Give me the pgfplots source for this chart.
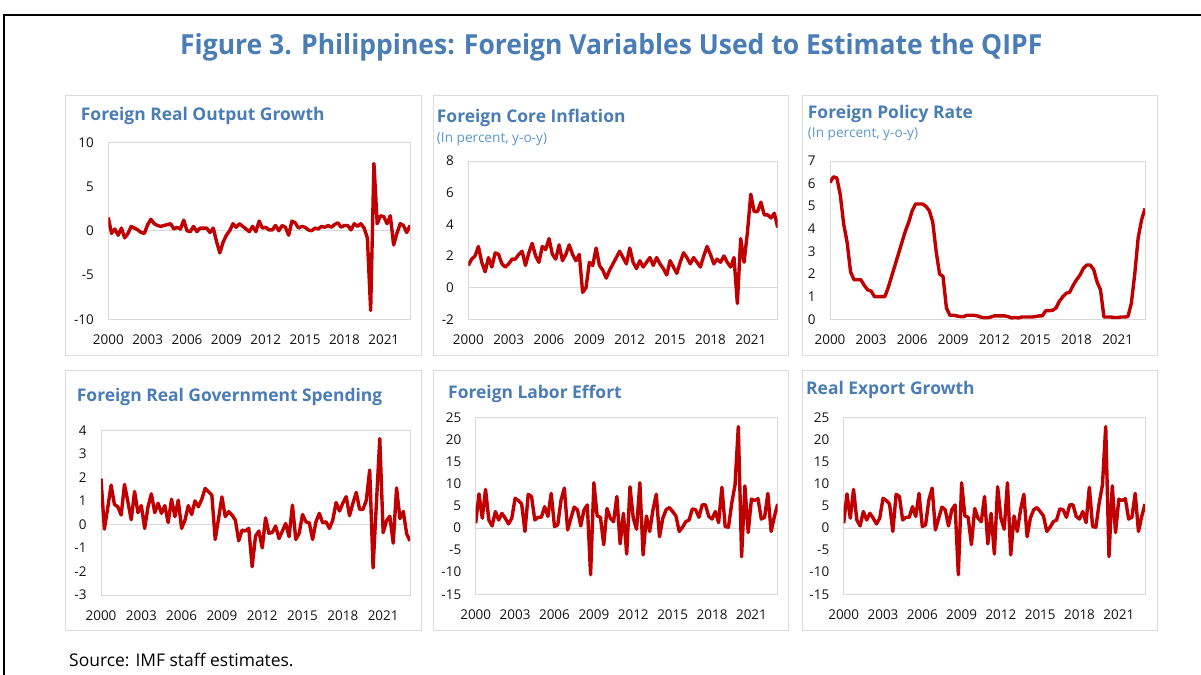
\documentclass[border=0pt]{standalone}
\usepackage{fontspec}
\setmainfont{Open Sans}
\usepackage{graphicx}
\usepackage{pgfplots}
\pgfplotsset{compat=1.18}
\usepackage{pgfplotstable}
\definecolor{ttl}{HTML}{4A7DB5}
\definecolor{sub}{HTML}{5B97D0}
\definecolor{ln}{HTML}{C00000}
\definecolor{bx}{HTML}{DCDCDC}
\definecolor{gl}{HTML}{D9D9D9}

\pgfplotstableread[row sep=\\]{y\\1.5\\-0.3\\0.2\\-0.5\\0.3\\-0.8\\-0.3\\0.5\\0.3\\0.1\\-0.2\\-0.3\\0.7\\1.3\\0.8\\0.6\\0.5\\0.6\\0.7\\0.8\\0.2\\0.4\\0.2\\1.2\\0.0\\-0.1\\0.5\\-0.1\\0.3\\0.3\\0.3\\-0.2\\0.3\\-1.2\\-2.5\\-1.3\\-0.5\\0.0\\0.8\\0.4\\0.8\\0.5\\0.2\\-0.1\\0.5\\-0.1\\1.1\\0.3\\0.4\\0.1\\0.1\\0.6\\0.0\\0.6\\0.4\\-0.5\\1.1\\0.9\\0.3\\0.5\\0.4\\0.1\\0.0\\0.3\\0.2\\0.5\\0.4\\0.6\\0.4\\0.7\\0.9\\0.4\\0.6\\0.6\\0.1\\0.8\\0.5\\0.8\\0.3\\-0.8\\-9.0\\7.6\\0.8\\1.7\\1.6\\0.8\\1.7\\-1.6\\-0.3\\0.8\\0.6\\-0.2\\0.6\\}\dA

\pgfplotstableread[row sep=\\]{y\\1.4\\1.8\\2.0\\2.6\\1.6\\1.0\\1.9\\1.3\\2.2\\2.1\\1.5\\1.3\\1.5\\1.8\\1.8\\2.1\\2.3\\1.4\\2.2\\2.8\\2.0\\1.6\\2.6\\2.4\\3.1\\2.1\\1.8\\2.7\\1.7\\2.1\\2.7\\2.1\\1.7\\2.1\\-0.3\\0.0\\1.6\\1.4\\2.5\\1.4\\1.1\\0.6\\1.1\\1.5\\1.9\\2.3\\1.9\\1.5\\2.5\\1.6\\1.2\\1.7\\1.3\\1.6\\1.9\\1.4\\1.9\\1.5\\1.2\\0.8\\1.7\\1.3\\0.9\\1.6\\2.2\\1.9\\1.5\\1.9\\1.6\\1.3\\2.0\\2.6\\2.1\\1.5\\1.8\\1.6\\2.0\\1.6\\1.3\\1.9\\-1.0\\3.1\\1.6\\3.5\\5.9\\4.8\\4.8\\5.4\\4.6\\4.6\\4.4\\4.7\\3.8\\}\dB

\pgfplotstableread[row sep=\\]{y\\6.05\\6.3\\6.25\\5.5\\4.2\\3.4\\2.1\\1.75\\1.75\\1.75\\1.5\\1.3\\1.25\\1.0\\1.0\\1.0\\1.0\\1.4\\1.9\\2.4\\2.9\\3.4\\3.9\\4.3\\4.8\\5.1\\5.1\\5.1\\5.0\\4.8\\4.3\\3.0\\2.0\\1.9\\0.5\\0.18\\0.18\\0.15\\0.12\\0.12\\0.18\\0.18\\0.18\\0.15\\0.1\\0.07\\0.07\\0.1\\0.15\\0.15\\0.15\\0.15\\0.12\\0.06\\0.08\\0.06\\0.1\\0.1\\0.1\\0.1\\0.12\\0.15\\0.15\\0.38\\0.38\\0.4\\0.5\\0.8\\1.0\\1.15\\1.2\\1.5\\1.75\\1.95\\2.25\\2.4\\2.4\\2.2\\1.65\\1.3\\0.1\\0.1\\0.1\\0.08\\0.08\\0.1\\0.1\\0.12\\0.7\\2.0\\3.6\\4.4\\4.9\\}\dC

\pgfplotstableread[row sep=\\]{y\\1.95\\-0.2\\0.7\\1.67\\0.85\\0.75\\0.4\\1.7\\0.96\\0.2\\1.4\\0.5\\0.8\\-0.17\\0.75\\1.3\\0.5\\0.9\\0.47\\0.8\\0.08\\1.07\\0.33\\1.03\\-0.17\\0.18\\0.8\\0.42\\1.0\\0.75\\1.07\\1.53\\1.39\\1.25\\-0.64\\0.25\\1.17\\0.33\\0.54\\0.4\\0.18\\-0.7\\-0.24\\-0.28\\-0.17\\-1.8\\-0.5\\-0.28\\-1.0\\0.28\\-0.38\\-0.34\\-0.07\\-0.6\\-0.28\\0.04\\-0.52\\0.82\\-0.64\\-0.38\\0.42\\0.11\\0.07\\-0.64\\0.11\\0.47\\0.07\\0.11\\-0.17\\0.18\\0.93\\0.57\\0.9\\1.18\\0.37\\0.9\\1.36\\0.64\\0.64\\1.03\\2.31\\-1.85\\0.9\\3.65\\-0.35\\0.15\\0.35\\-0.8\\1.55\\0.25\\0.55\\-0.4\\-0.7\\}\dD

\pgfplotstableread[row sep=\\]{y\\1.05\\7.7\\2.2\\8.7\\1.8\\0.45\\3.7\\1.8\\3.3\\2.2\\0.9\\2.2\\6.7\\6.2\\5.4\\-0.8\\7.6\\7.1\\1.8\\2.4\\2.4\\4.8\\2.6\\7.8\\0.3\\0.7\\6.3\\9.0\\-0.45\\2.2\\4.7\\4.1\\0.45\\4.1\\5.2\\-10.6\\10.2\\2.7\\2.4\\-3.8\\4.4\\2.2\\1.4\\7.1\\-3.6\\3.3\\-5.9\\9.3\\2.2\\-0.3\\10.2\\-6.1\\2.7\\-0.8\\4.1\\7.6\\-2.0\\2.2\\4.1\\4.6\\3.7\\2.7\\-0.8\\0.15\\1.4\\1.8\\4.3\\4.1\\2.4\\5.2\\5.2\\2.6\\2.0\\3.7\\1.2\\9.2\\0.3\\0.15\\5.6\\9.7\\22.9\\-6.5\\9.5\\-1.05\\6.5\\6.2\\6.6\\2.0\\2.4\\7.8\\-0.8\\2.6\\5.4\\}\dE

\pgfplotsset{
  panel/.style={
    scale only axis, anchor=south west,
    axis line style={draw=gl, line width=0.8bp},
    major tick length=0pt, tick style={draw=none},
    xmin=0, xmax=92,
    xtick={0,12,24,36,48,60,72,84},
    xticklabels={2000,2003,2006,2009,2012,2015,2018,2021},
    /pgf/number format/assume math mode=true,
    ticklabel style={font=\fontsize{13.5}{15}\selectfont, text=black!92},
    xticklabel style={yshift=-12bp},
    yticklabel style={xshift=-11bp},
    extra y ticks={0}, extra y tick labels={},
    extra y tick style={grid=major, major grid style={draw=gl, line width=0.8bp}},
  },
  myline/.style={draw=ln, line width=3.4bp, line join=round, mark=none},
}
\tikzset{
  ptitle/.style={anchor=base west, inner sep=0pt, text=ttl, font=\bfseries\fontsize{17.5}{20}\selectfont},
  psub/.style={anchor=base west, inner sep=0pt, text=sub, font=\fontsize{13.7}{16}\selectfont},
}

\begin{document}
\begin{tikzpicture}[x=1bp,y=1bp]
\fill[white] (0,0) rectangle (1201,675);
\path[use as bounding box] (0,0) rectangle (1201,675);
\draw[line width=2.5bp, black] (4,0) -- (4,660) -- (1201,660);

\node[anchor=base west, inner sep=0pt, text=ttl] at (180,620) {\resizebox{862bp}{21bp}{\bfseries Figure 3. Philippines: Foreign Variables Used to Estimate the QIPF}};

% panel boxes
\draw[bx, line width=0.8bp] (65,320) rectangle (421.7,580);
\draw[bx, line width=0.8bp] (433,320) rectangle (788,580);
\draw[bx, line width=0.8bp] (802,320) rectangle (1157,580);
\draw[bx, line width=0.8bp] (65,45) rectangle (421.7,305);
\draw[bx, line width=0.8bp] (433,45) rectangle (788,305);
\draw[bx, line width=0.8bp] (802,45) rectangle (1157,305);

% titles
\node[ptitle] at (80.7,554) {Foreign Real Output Growth};
\node[ptitle] at (436.7,552.7) {Foreign Core Inflation};
\node[psub] at (436.7,532.7) {(In percent, y-o-y)};
\node[ptitle] at (807.7,556.7) {Foreign Policy Rate};
\node[psub] at (807.7,537.3) {(In percent, y-o-y)};
\node[ptitle] at (76.7,273.3) {Foreign Real Government Spending};
\node[ptitle] at (448,276.7) {Foreign Labor Effort};
\node[ptitle] at (806,280) {Real Export Growth};

\node[anchor=base west, inner sep=0pt, font=\fontsize{17.5}{19}\selectfont] at (69,8.3) {Source: IMF staff estimates.};

\begin{axis}[panel, at={(108.3bp,355.7bp)}, width=301.7bp, height=177bp,
  ymin=-10, ymax=10, ytick={-10,-5,0,5,10}]
\addplot[myline] table[x expr=\coordindex, y=y] {\dA};
\end{axis}

\begin{axis}[panel, at={(468.3bp,355.7bp)}, width=309.4bp, height=158.3bp,
  ymin=-2, ymax=8, ytick={-2,0,2,4,6,8}]
\addplot[myline] table[x expr=\coordindex, y=y] {\dB};
\end{axis}

\begin{axis}[panel, at={(830bp,355.7bp)}, width=315bp, height=158.3bp,
  ymin=0, ymax=7, ytick={0,1,2,3,4,5,6,7}]
\addplot[myline] table[x expr=\coordindex, y=y] {\dC};
\end{axis}

\begin{axis}[panel, at={(101bp,80bp)}, width=309bp, height=164.7bp,
  ymin=-3, ymax=4, ytick={-3,-2,-1,0,1,2,3,4}]
\addplot[myline] table[x expr=\coordindex, y=y] {\dD};
\end{axis}

\begin{axis}[panel, at={(475.7bp,80.7bp)}, width=302bp, height=177bp,
  ymin=-15, ymax=25, ytick={-15,-10,-5,0,5,10,15,20,25}]
\addplot[myline] table[x expr=\coordindex, y=y] {\dE};
\end{axis}

\begin{axis}[panel, at={(843.7bp,80.7bp)}, width=301.3bp, height=177bp,
  ymin=-15, ymax=25, ytick={-15,-10,-5,0,5,10,15,20,25}]
\addplot[myline] table[x expr=\coordindex, y=y] {\dE};
\end{axis}
\end{tikzpicture}
\end{document}
